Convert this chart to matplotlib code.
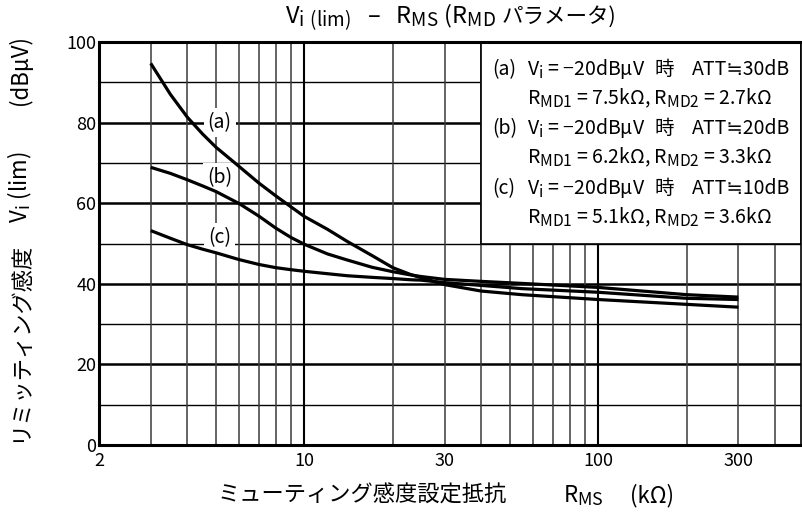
import matplotlib
matplotlib.use("Agg")
import matplotlib.pyplot as plt
import matplotlib._mathtext as mathtext_impl
from matplotlib.patches import Rectangle

plt.rcParams['font.family'] = ['Noto Sans CJK JP', 'DejaVu Sans']
plt.rcParams['mathtext.fontset'] = 'custom'
plt.rcParams['mathtext.rm'] = 'Noto Sans CJK JP'
plt.rcParams['mathtext.it'] = 'Noto Sans CJK JP'
# subscripts in this style are only slightly smaller than the body text
mathtext_impl.SHRINK_FACTOR = 0.8

# R_MS (kOhm) and limiting sensitivity (dBuV) for each R_MD setting
rms = [3, 3.5, 4, 4.5, 5, 6, 7, 8, 9, 10, 12, 14, 17, 20, 23, 25, 30,
       40, 55, 100, 200, 300]
vi_a = [94.7, 87.0, 81.3, 77.2, 73.9, 69.1, 65.0, 61.8, 59.1, 56.7, 53.5, 50.5,
        47.0, 44.0, 42.3, 41.5, 39.8, 38.2, 37.3, 36.1, 34.9, 34.2]
vi_b = [68.9, 67.4, 65.8, 64.3, 62.9, 59.9, 56.8, 53.8, 51.5, 49.8, 47.4, 45.9,
        44.1, 43.0, 42.2, 41.8, 41.1, 40.6, 40.1, 39.1, 37.3, 36.7]
vi_c = [53.2, 51.3, 49.7, 48.6, 47.7, 46.0, 44.8, 44.0, 43.5, 43.1, 42.5, 42.0,
        41.6, 41.3, 41.0, 40.9, 40.3, 39.6, 38.8, 37.9, 36.4, 36.1]

xticks = [2, 10, 30, 100, 300]
yticks = [0, 20, 40, 60, 80, 100]

tags = ['(a)', '(b)', '(c)']
att = ['ATT≒30dB', 'ATT≒20dB', 'ATT≒10dB']
rmd1 = ['7.5', '6.2', '5.1']
rmd2 = ['2.7', '3.3', '3.6']

W, H = 803, 518
fig = plt.figure(figsize=(W / 100, H / 100), dpi=100)
ax = fig.add_axes([99 / W, 1 - 445 / H, (801 - 99) / W, (445 - 42) / H])
ax.set_xscale('log')
ax.set_xlim(2, 490)
ax.set_ylim(0, 100)


def ptext(x, y, s, **kw):
    # place text by pixel position, measured from the top-left corner
    return fig.text(x / W, 1 - y / H, s, **kw)


# grid: thin for minor steps, heavier on the labelled values
for v in range(10, 100, 10):
    ax.axhline(v, color='black', lw=1.8 if v % 20 == 0 else 1.0, zorder=1)
for dec in [1, 10, 100]:
    for k in range(1, 10):
        v = k * dec
        if 2 < v < 490:
            heavy = v in (10, 100)
            ax.axvline(v, color='black' if heavy else '#3a3a3a',
                       lw=1.5 if heavy else 1.1, zorder=1)

# parameter box in the upper right
ax.add_patch(Rectangle((40, 50), 490 - 40, 50, facecolor='white',
                       edgecolor='black', lw=1.2, zorder=3))
fs = 14
for i in range(3):
    y1 = 75 + i * 59.5
    y2 = y1 + 29
    ptext(492, y1, tags[i], fontsize=fs, va='baseline', ha='left', zorder=4)
    ptext(527, y1, 'V$_\\mathrm{i}$ = −20dBμV', fontsize=fs, va='baseline',
          ha='left', zorder=4)
    ptext(664, y1, '時', fontsize=fs, va='baseline', ha='center', zorder=4)
    ptext(790, y1, att[i], fontsize=fs, va='baseline', ha='right', zorder=4)
    ptext(527, y2, 'R$_\\mathrm{MD1}$ = %skΩ, R$_\\mathrm{MD2}$ = %skΩ'
          % (rmd1[i], rmd2[i]), fontsize=fs, va='baseline', ha='left', zorder=4)

for vals in (vi_a, vi_b, vi_c):
    ax.plot(rms, vals, color='black', lw=2.3, zorder=5, solid_capstyle='butt')

for tag, y in zip(tags, (80, 66.3, 51.4)):
    ax.text(5.15, y, tag, fontsize=14, ha='center', va='center', zorder=4,
            bbox=dict(facecolor='white', edgecolor='none', pad=3.0))

for s in ax.spines.values():
    s.set_linewidth(2.2)
    s.set_zorder(6)
ax.spines['right'].set_linewidth(1.2)

ax.set_xticks(xticks)
ax.set_xticklabels([str(t) for t in xticks], fontsize=13)
ax.minorticks_off()
ax.set_yticks(yticks)
ax.set_yticklabels([str(t) for t in yticks], fontsize=13)
ax.tick_params(axis='y', length=0, pad=2)
ax.tick_params(axis='x', length=0, pad=5)

# title: latin part with subscripts, then the katakana part right after it
renderer = fig.canvas.get_renderer()
t1 = ptext(0, 23, 'V$_\\mathrm{i\\ (lim)}$   –   R$_\\mathrm{MS}$ (R$_\\mathrm{MD}$',
           fontsize=17, ha='left', va='baseline')
t2 = ptext(0, 23, 'パラメータ)', fontsize=15.5, ha='left', va='baseline')
w1 = t1.get_window_extent(renderer).width
w2 = t2.get_window_extent(renderer).width
x0 = 451 - (w1 + 6 + w2) / 2
t1.set_x(x0 / W)
t2.set_x((x0 + w1 + 6) / W)

# x axis label
ptext(218, 502, 'ミューティング感度設定抵抗', fontsize=16, ha='left', va='baseline')
ptext(563, 502, 'R$_\\mathrm{MS}$', fontsize=16, ha='left', va='baseline')
ptext(630, 502, '(kΩ)', fontsize=16, ha='left', va='baseline')

# y axis label
ptext(20, 342, 'リミッティング感度', fontsize=16, ha='center', va='center', rotation=90)
ptext(20, 187, 'V$_\\mathrm{i}$ (lim)', fontsize=16, ha='center', va='center', rotation=90)
ptext(20, 70, '(dBμV)', fontsize=16, ha='center', va='center', rotation=90)

fig.savefig('out.png', dpi=100)
